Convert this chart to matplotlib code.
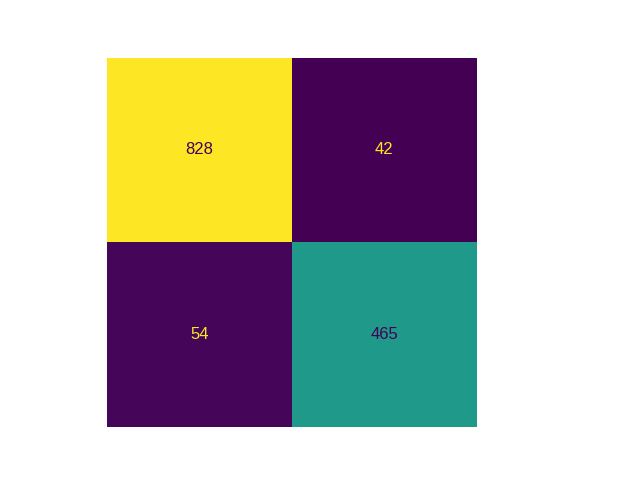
import matplotlib
matplotlib.use("Agg")
import matplotlib.pyplot as plt
import numpy as np

labels = ["0", "1"]
cm = np.array([[828, 42], [54, 465]])

plt.rcParams['font.family'] = ['Liberation Sans', 'DejaVu Sans']
fig = plt.figure(figsize=(6.4, 4.8), dpi=100)
ax = fig.add_axes([0.125, 0.11, 0.62, 0.77])
ax.set_anchor('E')
cmap = plt.get_cmap('viridis')
im = ax.imshow(cm, cmap=cmap, interpolation='nearest')
vmin, vmax = cm.min(), cm.max()
thresh = (vmax + vmin) / 2.0
for i in range(cm.shape[0]):
    for j in range(cm.shape[1]):
        color = cmap(0) if cm[i, j] >= thresh else cmap(256)
        ax.text(j, i, str(cm[i, j]), ha='center', va='center', color=color, fontsize=12)
ax.axis('off')
fig.savefig('out.png', dpi=100)
